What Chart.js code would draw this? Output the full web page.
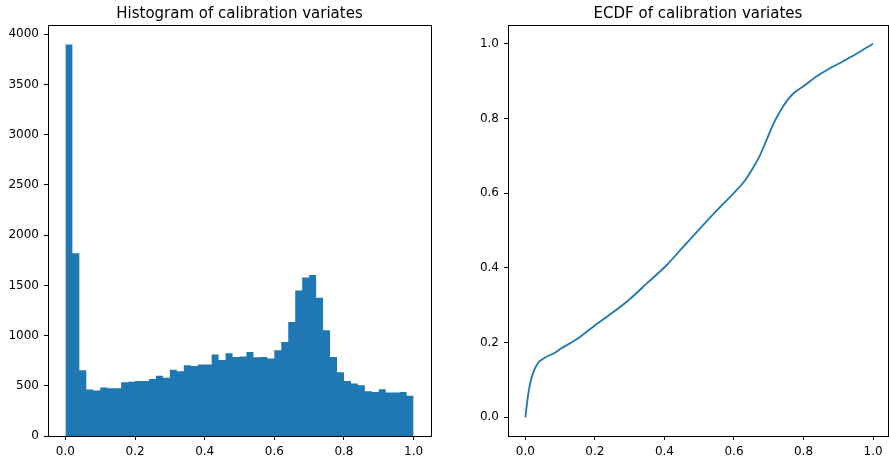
<!DOCTYPE html>
<html>
<head>
<meta charset="utf-8">
<script src="https://cdn.jsdelivr.net/npm/chart.js@4.4.1/dist/chart.umd.min.js"></script>
<style>
  html, body { margin: 0; padding: 0; background: #fff; }
  #wrap { position: relative; width: 889px; height: 461px; overflow: hidden; }
  canvas { position: absolute; top: 0; }
</style>
</head>
<body>
<div id="wrap">
  <canvas id="histChart" width="440" height="461" style="left:0"></canvas>
  <canvas id="ecdfChart" width="429" height="461" style="left:460px"></canvas>
</div>
<script>
// histogram: 50 bins of width 0.02 from 0 to 1
var binWidth = 0.02;
var binCounts = [3898, 1820, 654, 462, 452, 482, 475, 475, 535, 541,
                 548, 548, 568, 601, 581, 661, 644, 704, 697, 711,
                 711, 811, 757, 824, 787, 791, 837, 784, 787, 771,
                 854, 936, 1136, 1448, 1578, 1604, 1378, 1053, 787, 634,
                 548, 522, 505, 445, 438, 465, 432, 432, 438, 402];

// ecdf points
var ecdfX = [0, 0.007, 0.0135, 0.023, 0.037, 0.057, 0.085, 0.1, 0.143, 0.2,
             0.258, 0.3, 0.35, 0.406, 0.45, 0.5, 0.55, 0.6, 0.63, 0.655,
             0.675, 0.694, 0.713, 0.732, 0.752, 0.77, 0.8, 0.837, 0.87, 0.914,
             0.96, 1.0];
var ecdfY = [0, 0.054, 0.09, 0.121, 0.146, 0.16, 0.173, 0.183, 0.206, 0.246,
             0.285, 0.316, 0.359, 0.407, 0.452, 0.503, 0.553, 0.601, 0.632, 0.668,
             0.702, 0.743, 0.785, 0.818, 0.847, 0.866, 0.886, 0.912, 0.931, 0.953,
             0.977, 1.0];

var xTicks = [0, 0.2, 0.4, 0.6, 0.8, 1.0];
var countTicks = [0, 500, 1000, 1500, 2000, 2500, 3000, 3500, 4000];
var ecdfTicks = [0, 0.2, 0.4, 0.6, 0.8, 1.0];

var blue = '#1f77b4';
var tickFont = { family: 'DejaVu Sans', size: 12 };

// matplotlib style box around the plot area
var frame = {
  id: 'frame',
  afterDraw: function (chart) {
    var a = chart.chartArea, ctx = chart.ctx;
    ctx.save();
    ctx.strokeStyle = '#000';
    ctx.lineWidth = 1;
    ctx.strokeRect(Math.round(a.left) + 0.5, Math.round(a.top) + 0.5,
                   Math.round(a.right - a.left), Math.round(a.bottom - a.top));
    ctx.restore();
  }
};

function axis(min, max, tickList, fmt, fitSize, horizontal) {
  return {
    type: 'linear',
    min: min,
    max: max,
    offset: false,
    border: { display: false },
    grid: { offset: false, drawOnChartArea: false, drawTicks: true, tickLength: 4, color: '#000', lineWidth: 1 },
    ticks: {
      autoSkip: false,
      maxRotation: 0,
      color: '#000',
      font: tickFont,
      padding: 5,
      callback: fmt
    },
    afterBuildTicks: function (s) {
      s.ticks = tickList.map(function (v) { return { value: v }; });
    },
    afterFit: function (s) {
      if (horizontal) s.height = fitSize; else s.width = fitSize;
    }
  };
}

function titleOpts(text) {
  return {
    display: true,
    fullSize: false, // centre over the plot area, not the canvas
    text: text,
    color: '#000',
    font: { family: 'DejaVu Sans', size: 15, weight: 'normal', lineHeight: 1.2 },
    padding: { top: 5, bottom: 2 }
  };
}

var fmt1 = function (v) { return Number(v).toFixed(1); };
var fmt0 = function (v) { return String(Math.round(v)); };

// histogram drawn as one filled step outline (bin left edges + closing edge)
var histData = binCounts.map(function (c, i) {
  return { x: i * binWidth, y: c };
});
histData.push({ x: binCounts.length * binWidth, y: binCounts[binCounts.length - 1] });

new Chart(document.getElementById('histChart'), {
  type: 'line',
  data: {
    datasets: [{
      data: histData,
      stepped: true,
      fill: 'origin',
      backgroundColor: blue,
      borderColor: 'rgba(0,0,0,0)',
      borderWidth: 0,
      pointRadius: 0
    }]
  },
  options: {
    responsive: false,
    animation: false,
    layout: { padding: { left: 0, right: 9, top: 0, bottom: 0 } },
    plugins: {
      legend: { display: false },
      tooltip: { enabled: false },
      title: titleOpts('Histogram of calibration variates')
    },
    scales: {
      x: axis(-0.05, 1.05, xTicks, fmt1, 25, true),
      y: axis(0, 4093, countTicks, fmt0, 48, false)
    }
  },
  plugins: [frame]
});

var ecdfData = ecdfX.map(function (x, i) { return { x: x, y: ecdfY[i] }; });

new Chart(document.getElementById('ecdfChart'), {
  type: 'line',
  data: {
    datasets: [{
      data: ecdfData,
      borderColor: blue,
      borderWidth: 1.8,
      pointRadius: 0,
      fill: false,
      cubicInterpolationMode: 'monotone'
    }]
  },
  options: {
    responsive: false,
    animation: false,
    layout: { padding: { left: 0, right: 1, top: 0, bottom: 0 } },
    plugins: {
      legend: { display: false },
      tooltip: { enabled: false },
      title: titleOpts('ECDF of calibration variates')
    },
    scales: {
      x: axis(-0.05, 1.043, xTicks, fmt1, 25, true),
      y: axis(-0.05, 1.05, ecdfTicks, fmt1, 48, false)
    }
  },
  plugins: [frame]
});
</script>
</body>
</html>
